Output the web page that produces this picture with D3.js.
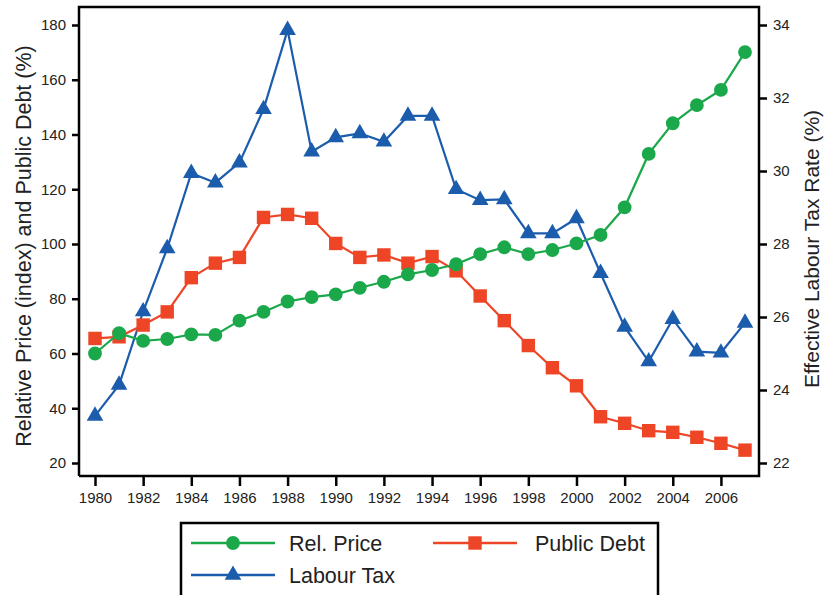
<!DOCTYPE html>
<html>
<head>
<meta charset="utf-8">
<script src="https://cdn.jsdelivr.net/npm/d3@7"></script>
<style>
  body { margin: 0; background: #fff; }
  text { font-family: "Liberation Sans", Arial, Helvetica, sans-serif; fill: #222; }
</style>
</head>
<body>
<svg id="chart"></svg>
<script>
const width = 826, height = 595;

const years = d3.range(1980, 2008);
const relPrice = [60, 67.4, 64.6, 65.3, 67, 66.8, 72, 75.2, 79, 80.6, 81.6, 84, 86.2, 88.9,
                  90.5, 92.6, 96.3, 98.8, 96.3, 97.8, 100.2, 103.3, 113.4, 132.9, 144.1, 150.7, 156.3, 170.1];
const publicDebt = [65.5, 66.1, 70.4, 75.2, 87.7, 93, 95.1, 109.7, 110.8, 109.4, 100.2, 95.1, 96, 93,
                    95.4, 90.2, 81, 72, 62.9, 54.8, 48.2, 36.9, 34.5, 31.8, 31.2, 29.4, 27.2, 24.7];
const labourTax = [23.29, 24.14, 26.15, 27.88, 29.94, 29.68, 30.23, 31.69, 33.86, 30.53, 30.92, 31.03, 30.8, 31.51,
                   31.51, 29.5, 29.2, 29.22, 28.29, 28.29, 28.7, 27.2, 25.73, 24.78, 25.94, 25.05, 25.02, 25.84];
const leftTicks = [20, 40, 60, 80, 100, 120, 140, 160, 180];
const rightTicks = [22, 24, 26, 28, 30, 32, 34];
const yearTicks = d3.range(1980, 2007, 2);

const green = "#1aa84a", red = "#ee4526", blue = "#1c5cac";

const plotLeft = 79, plotRight = 759, plotTop = 7, plotBottom = 476;

const x = d3.scaleLinear().domain([1980, 2007]).range([95, 745]);
const yL = d3.scaleLinear().domain([20, 180]).range([463, 25]);
const yR = d3.scaleLinear().domain([22, 34]).range([463, 25]);

const svg = d3.select("#chart")
              .attr("width", width)
              .attr("height", height);

// frame
svg.append("path")
   .attr("d", `M${plotLeft},${plotBottom}V${plotTop}H${plotRight}V${plotBottom}H${plotLeft}`)
   .attr("fill", "none")
   .attr("stroke", "#000")
   .attr("stroke-width", 2.5);

const gL = svg.append("g")
              .attr("transform", `translate(${plotLeft},0)`)
              .call(d3.axisLeft(yL).tickValues(leftTicks).tickSize(7).tickPadding(6));
const gR = svg.append("g")
              .attr("transform", `translate(${plotRight},0)`)
              .call(d3.axisRight(yR).tickValues(rightTicks).tickSize(8).tickPadding(6));
const gX = svg.append("g")
              .attr("transform", `translate(0,${plotBottom})`)
              .call(d3.axisBottom(x).tickValues(yearTicks).tickFormat(d3.format("d")).tickSize(10).tickPadding(6));

[gL, gR, gX].forEach(g => {
  g.select(".domain").remove();
  g.selectAll(".tick line").attr("stroke", "#000").attr("stroke-width", 2.5);
  g.selectAll(".tick text").attr("font-size", 15).attr("fill", "#222")
   .style("font-family", "'Liberation Sans', Arial, sans-serif");
});

// axis titles
svg.append("text")
   .attr("transform", "translate(31,246) rotate(-90)")
   .attr("text-anchor", "middle")
   .attr("font-size", 21.5)
   .text("Relative Price (index) and Public Debt (%)");
svg.append("text")
   .attr("transform", "translate(819,249) rotate(-90)")
   .attr("text-anchor", "middle")
   .attr("font-size", 21)
   .text("Effective Labour Tax Rate (%)");

const series = [
  { name: "Rel. Price", values: relPrice, y: yL, color: green, shape: d3.symbolCircle, size: 150 },
  { name: "Public Debt", values: publicDebt, y: yL, color: red, shape: d3.symbolSquare, size: 180 },
  { name: "Labour Tax", values: labourTax, y: yR, color: blue, shape: d3.symbolTriangle, size: 120 }
];

// blue first, green last (on top), as in the reference
const drawOrder = [series[2], series[1], series[0]];
drawOrder.forEach(s => {
  const line = d3.line().x((d, i) => x(years[i])).y(d => s.y(d));
  svg.append("path")
     .datum(s.values)
     .attr("d", line)
     .attr("fill", "none")
     .attr("stroke", s.color)
     .attr("stroke-width", 2.2);
  svg.append("g")
     .selectAll("path")
     .data(s.values)
     .enter()
     .append("path")
     .attr("d", d3.symbol().type(s.shape).size(s.size))
     .attr("transform", (d, i) => `translate(${x(years[i])},${s.y(d)})`)
     .attr("fill", s.color);
});

// legend
svg.append("rect")
   .attr("x", 181).attr("y", 523)
   .attr("width", 477).attr("height", 90)
   .attr("fill", "#fff")
   .attr("stroke", "#000")
   .attr("stroke-width", 2.5);

const legendPos = [
  { x: 191, y: 543 },
  { x: 433, y: 543 },
  { x: 191, y: 575 }
];
const legendText = [289, 535, 289];
series.forEach((s, i) => {
  const p = legendPos[i];
  svg.append("line")
     .attr("x1", p.x).attr("x2", p.x + 84)
     .attr("y1", p.y).attr("y2", p.y)
     .attr("stroke", s.color).attr("stroke-width", 2.5);
  svg.append("path")
     .attr("d", d3.symbol().type(s.shape).size(s.size))
     .attr("transform", `translate(${p.x + 42},${p.y})`)
     .attr("fill", s.color);
  svg.append("text")
     .attr("x", legendText[i]).attr("y", p.y + 8)
     .attr("font-size", 21.5)
     .text(s.name);
});
</script>
</body>
</html>
